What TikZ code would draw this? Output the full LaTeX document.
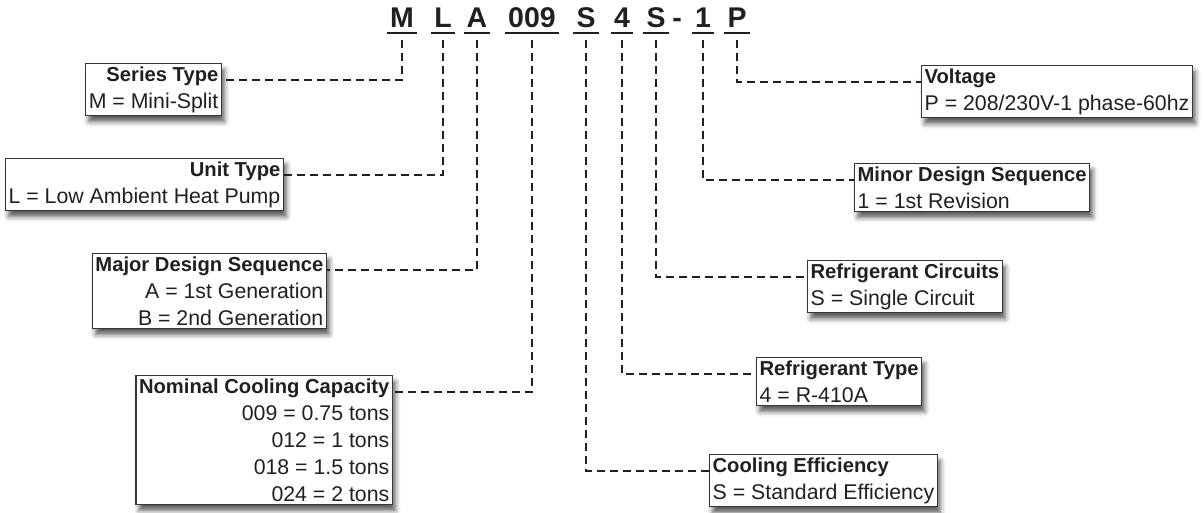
\documentclass[tikz,border=0pt]{standalone}
\usepackage{fontspec}
\setmainfont{Liberation Sans}
\usetikzlibrary{shadows.blur}
\definecolor{ink}{HTML}{231F20}
\newcommand{\boxtitle}[1]{{\fontsize{20.2}{27}\selectfont\bfseries #1}}

\begin{document}
\begin{tikzpicture}[x=1pt,y=-1pt,
    code/.style={font=\fontsize{28.5}{28}\selectfont\bfseries, text=ink, inner xsep=3pt, inner ysep=0pt, anchor=base},
    uline/.style={draw=ink, line width=2.6pt},
    leader/.style={draw=ink, line width=2.2pt, dash pattern=on 8pt off 5pt},
    box/.style={draw=ink!90, line width=1.3pt, fill=white, text=ink,
        font=\fontsize{21.3}{27}\selectfont, inner xsep=3pt, inner ysep=3pt,
        blur shadow={shadow xshift=3pt, shadow yshift=-6pt, shadow blur radius=5pt, shadow opacity=65}},
    lbox/.style={box, anchor=north east, align=right},
    rbox/.style={box, anchor=north west, align=left}]
    \useasboundingbox (0,0) rectangle (1204,513);
    % model number
    \node[code] (cM) at (402,28) {M};
    \node[code] (cL) at (443,28) {L};
    \node[code] (cA) at (477,28) {A};
    \node[code] (cCap) at (532,28) {009};
    \node[code] (cEff) at (586,28) {S};
    \node[code] (cRef) at (622,28) {4};
    \node[code] (cCirc) at (656,28) {S};
    \node[code] (cDash) at (677,28) {-};
    \node[code] (cRev) at (703,28) {1};
    \node[code] (cP) at (737,28) {P};
    \foreach \c in {cM,cL,cA,cCap,cEff,cRef,cCirc,cRev,cP}
        \draw[uline] ([yshift=-5pt]\c.base west) -- ([yshift=-5pt]\c.base east);
    % left side
    \node[lbox] (series) at (222,63) {\boxtitle{Series Type}\\M = Mini-Split};
    \node[lbox] (unit) at (284,158) {\boxtitle{Unit Type}\\L = Low Ambient Heat Pump};
    \node[lbox] (major) at (327,253) {\boxtitle{Major Design Sequence}\\A = 1st Generation\\B = 2nd Generation};
    \node[lbox] (nominal) at (393,375) {\boxtitle{Nominal Cooling Capacity}\\009 = 0.75 tons\\012 = 1 tons\\018 = 1.5 tons\\024 = 2 tons};
    % right side
    \node[rbox] (voltage) at (921,65) {\boxtitle{Voltage}\\P = 208/230V-1 phase-60hz};
    \node[rbox] (minor) at (854,163) {\boxtitle{Minor Design Sequence}\\1 = 1st Revision};
    \node[rbox] (circuits) at (807,260) {\boxtitle{Refrigerant Circuits}\\S = Single Circuit};
    \node[rbox] (reftype) at (756,357) {\boxtitle{Refrigerant Type}\\4 = R-410A};
    \node[rbox] (cooling) at (709,454) {\boxtitle{Cooling Efficiency}\\S = Standard Efficiency};
    % leaders
    \draw[leader] ([yshift=-12pt]cM.base) |- ([yshift=-17pt]series.north east);
    \draw[leader] ([yshift=-12pt]cL.base) |- ([yshift=-17pt]unit.north east);
    \draw[leader] ([yshift=-12pt]cA.base) |- ([yshift=-17pt]major.north east);
    \draw[leader] ([yshift=-12pt]cCap.base) |- ([yshift=-17pt]nominal.north east);
    \draw[leader] ([yshift=-12pt]cEff.base) |- ([yshift=-17pt]cooling.north west);
    \draw[leader] ([yshift=-12pt]cRef.base) |- ([yshift=-17pt]reftype.north west);
    \draw[leader] ([yshift=-12pt]cCirc.base) |- ([yshift=-17pt]circuits.north west);
    \draw[leader] ([yshift=-12pt]cRev.base) |- ([yshift=-17pt]minor.north west);
    \draw[leader] ([yshift=-12pt]cP.base) |- ([yshift=-17pt]voltage.north west);
\end{tikzpicture}
\end{document}
